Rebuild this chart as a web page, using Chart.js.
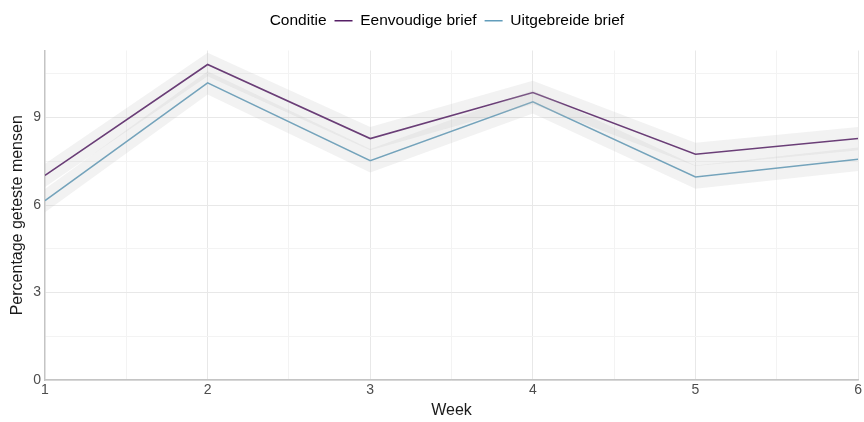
<!DOCTYPE html>
<html><head><meta charset="utf-8">
<script src="https://cdn.jsdelivr.net/npm/chart.js@4"></script>
<style>html,body{margin:0;padding:0;background:#fff}#wrap{width:864px;height:422px}</style>
</head><body><div id="wrap"><canvas id="c"></canvas></div>
<script>
const weeks = [1, 2, 3, 4, 5, 6];
const eenvoudig = [7.02, 10.82, 8.28, 9.86, 7.74, 8.28];
const eenvoudigUpper = [7.42, 11.22, 8.68, 10.26, 8.14, 8.68];
const eenvoudigLower = [6.62, 10.42, 7.88, 9.46, 7.34, 7.88];
const uitgebreid = [6.15, 10.19, 7.52, 9.54, 6.96, 7.57];
const uitgebreidUpper = [6.55, 10.59, 7.92, 9.94, 7.36, 7.97];
const uitgebreidLower = [5.75, 9.79, 7.12, 9.14, 6.56, 7.17];
const yTickLabels = [0, 3, 6, 9];
const xTickLabels = [1, 2, 3, 4, 5, 6];

const pts = arr => weeks.map((w, i) => ({x: w, y: arr[i]}));
const PURPLE = '#561f66', BLUE = '#629dbb', RIB = 'rgba(190,190,190,0.2)';
const ribbon = (arr, fill) => ({label: '_rib', data: pts(arr), borderWidth: 0, pointRadius: 0, backgroundColor: RIB, fill: fill, tension: 0});

const legendMargin = {
  id: 'legendMargin',
  beforeInit(chart) {
    const fit = chart.legend.fit;
    chart.legend.fit = function () { fit.bind(chart.legend)(); this.height += 12; };
  }
};

new Chart(document.getElementById('c'), {
  type: 'line',
  plugins: [legendMargin],
  data: {
    datasets: [
      ribbon(eenvoudigUpper, '+1'),
      ribbon(eenvoudigLower, false),
      ribbon(uitgebreidUpper, '+1'),
      ribbon(uitgebreidLower, false),
      {label: 'Eenvoudige brief', data: pts(eenvoudig), borderColor: PURPLE, backgroundColor: PURPLE, borderWidth: 1.6, pointRadius: 0, fill: false, tension: 0},
      {label: 'Uitgebreide brief', data: pts(uitgebreid), borderColor: BLUE, backgroundColor: BLUE, borderWidth: 1.6, pointRadius: 0, fill: false, tension: 0}
    ]
  },
  options: {
    responsive: true, maintainAspectRatio: false, animation: false,
    layout: {padding: {left: 8, right: 4, top: 5, bottom: 2}},
    plugins: {
      tooltip: {enabled: false},
      legend: {
        position: 'top',
        labels: {
          font: {family: 'Liberation Sans', size: 15.5}, color: '#1a1a1a', boxWidth: 18, boxHeight: 1.5, padding: 8,
          generateLabels: chart => {
            const items = [{text: 'Conditie', fillStyle: 'rgba(0,0,0,0)', strokeStyle: 'rgba(0,0,0,0)', lineWidth: 0, datasetIndex: -1}];
            chart.data.datasets.forEach((d, i) => {
              if (d.label !== '_rib') items.push({text: d.label, fillStyle: d.borderColor, strokeStyle: d.borderColor, lineWidth: 0, datasetIndex: i});
            });
            return items;
          }
        },
        onClick: () => {}
      }
    },
    scales: {
      x: {
        type: 'linear', min: 1, max: 6,
        afterBuildTicks: ax => { const t = []; for (let v = 1; v <= 6.001; v += 0.5) t.push({value: v}); ax.ticks = t; },
        ticks: {autoSkip: false, color: '#4d4d4d', font: {family: 'Liberation Sans', size: 14}, padding: 2,
          callback: v => xTickLabels.includes(v) ? String(v) : ''},
        grid: {color: c => Number.isInteger(c.tick.value) ? '#e8e8e8' : '#f3f3f3', lineWidth: 1, drawTicks: false},
        border: {display: true, color: '#c4c4c4', width: 1.5},
        title: {display: true, text: 'Week', color: '#1a1a1a', font: {family: 'Liberation Sans', size: 16}, padding: {top: 0, bottom: 0}}
      },
      y: {
        type: 'linear', min: 0, max: 11.3,
        afterBuildTicks: ax => { const t = []; for (let v = 0; v <= 11.3; v += 1.5) t.push({value: v}); ax.ticks = t; },
        ticks: {autoSkip: false, color: '#4d4d4d', font: {family: 'Liberation Sans', size: 14}, padding: 4,
          callback: v => yTickLabels.includes(v) ? String(v) : ''},
        grid: {color: c => (c.tick.value % 3 === 0) ? '#e8e8e8' : '#f3f3f3', lineWidth: 1, drawTicks: false},
        border: {display: true, color: '#c4c4c4', width: 1.5},
        title: {display: true, text: 'Percentage geteste mensen', color: '#1a1a1a', font: {family: 'Liberation Sans', size: 16}, padding: {top: 0, bottom: 2}}
      }
    }
  }
});
</script></body></html>
